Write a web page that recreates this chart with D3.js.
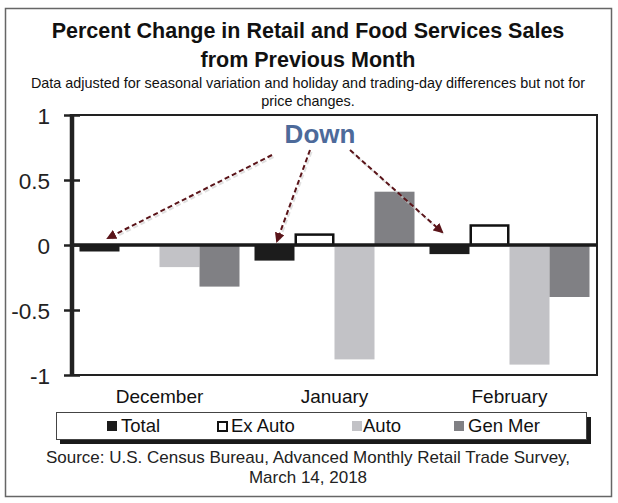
<!DOCTYPE html>
<html><head><meta charset="utf-8">
<script src="https://cdn.jsdelivr.net/npm/d3@7"></script>
<style>body{margin:0;background:#fff;}svg{display:block;font-family:"Liberation Sans",Arial,sans-serif;}</style>
</head><body>
<svg id="c" width="618" height="503"></svg>
<script>
const months = ["December","January","February"];
const seriesNames = ["Total","Ex Auto","Auto","Gen Mer"];
const total  = [-0.05, -0.12, -0.07];
const exAuto = [0.0, 0.08, 0.15];
const auto   = [-0.17, -0.88, -0.92];
const genMer = [-0.32, 0.41, -0.40];
const yTicks = [1, 0.5, 0, -0.5, -1];
const yTickLabels = ["1","0.5","0","-0.5","-1"];

const seriesValues = [total, exAuto, auto, genMer];
const fills = ["#1c1c1c","#ffffff","#c2c2c6","#808084"];
const strokes = ["none","#111","none","none"];

const svg = d3.select("#c");
// outer border
svg.append("rect").attr("x",5.5).attr("y",8.5).attr("width",606).attr("height",488)
  .attr("fill","#fff").attr("stroke","#666").attr("stroke-width",1.5);

// titles
svg.append("text").attr("x",308).attr("y",38).attr("text-anchor","middle")
  .attr("font-size",21.5).attr("font-weight","bold").attr("fill","#111")
  .text("Percent Change in Retail and Food Services Sales");
svg.append("text").attr("x",308).attr("y",67).attr("text-anchor","middle")
  .attr("font-size",21.5).attr("font-weight","bold").attr("fill","#111")
  .text("from Previous Month");
svg.append("text").attr("x",308).attr("y",88).attr("text-anchor","middle")
  .attr("font-size",14.4).attr("fill","#111")
  .text("Data adjusted for seasonal variation and holiday and trading-day differences but not for");
svg.append("text").attr("x",308).attr("y",106).attr("text-anchor","middle")
  .attr("font-size",14.4).attr("fill","#111").text("price changes.");

const pL = 72, pR = 597, pT = 115, pB = 375;
const y = d3.scaleLinear().domain([-1,1]).range([pB, pT]);
const p = 15/175;
const x0 = d3.scaleBand().domain(months).range([pL, pR]).paddingInner(p).paddingOuter(p/2);
const x1 = d3.scaleBand().domain(seriesNames).range([0, x0.bandwidth()]).padding(0);

// plot frame
svg.append("rect").attr("x",pL).attr("y",pT).attr("width",pR-pL).attr("height",pB-pT)
  .attr("fill","none").attr("stroke","#222").attr("stroke-width",2);

// bars
const data = [];
months.forEach((m,i)=>seriesNames.forEach((s,j)=>data.push({m, s, j, v: seriesValues[j][i]})));
svg.append("g").selectAll("rect").data(data.filter(d=>d.v!==0)).join("rect")
  .attr("x", d=>x0(d.m)+x1(d.s) + (d.j===1?1.25:0))
  .attr("width", d=>x1.bandwidth() - (d.j===1?2.5:0))
  .attr("y", d=>y(Math.max(0,d.v)))
  .attr("height", d=>Math.abs(y(d.v)-y(0)))
  .attr("fill", d=>fills[d.j])
  .attr("stroke", d=>strokes[d.j])
  .attr("stroke-width", 2.5);

// zero line
svg.append("line").attr("x1",pL).attr("x2",pR).attr("y1",y(0)).attr("y2",y(0))
  .attr("stroke","#1a1a1a").attr("stroke-width",3.5);

// y axis
const yAxis = d3.axisLeft(y).tickValues(yTicks).tickFormat((d,i)=>yTickLabels[i]).tickSize(0).tickPadding(22);
const ga = svg.append("g").attr("transform",`translate(${pL},0)`).call(yAxis);
ga.select(".domain").remove();
ga.selectAll("text").attr("font-size",22.5).attr("fill","#222").attr("font-family","Liberation Sans, Arial, sans-serif").attr("dy","0.36em");
ga.selectAll(".tick").append("line").attr("x1",-8).attr("x2",8).attr("stroke","#222").attr("stroke-width",2.5);
svg.append("line").attr("x1",pL).attr("x2",pL).attr("y1",pT-1).attr("y2",pB+1)
  .attr("stroke","#222").attr("stroke-width",4.5);

// x category labels
const xAxis = d3.axisBottom(x0).tickSize(0).tickPadding(15);
const gx = svg.append("g").attr("transform",`translate(0,${pB})`).call(xAxis);
gx.select(".domain").remove();
gx.selectAll("text").attr("font-size",19).attr("fill","#111").attr("font-family","Liberation Sans, Arial, sans-serif");

// annotation
svg.append("defs").append("marker").attr("id","ah").attr("viewBox","0 0 10 10")
  .attr("refX",8).attr("refY",5).attr("markerWidth",5).attr("markerHeight",5).attr("orient","auto")
  .append("path").attr("d","M0,0L10,5L0,10z").attr("fill","#5a1419");
svg.append("text").attr("x",320).attr("y",143).attr("text-anchor","middle")
  .attr("font-size",26).attr("font-weight","bold").attr("fill","#4d6a9a").text("Down");
const arrows = [[272,155,108,238],[310,150,277,241],[350,150,442,232]];
svg.append("g").selectAll("line").data(arrows).join("line")
  .attr("x1",d=>d[0]+1.5).attr("y1",d=>d[1]+2).attr("x2",d=>d[2]+1.5).attr("y2",d=>d[3]+2)
  .attr("stroke","#ccc").attr("stroke-width",2).attr("stroke-dasharray","5,3").attr("opacity",0.6);
svg.append("g").selectAll("line").data(arrows).join("line")
  .attr("x1",d=>d[0]).attr("y1",d=>d[1]).attr("x2",d=>d[2]).attr("y2",d=>d[3])
  .attr("stroke","#5a1419").attr("stroke-width",2).attr("stroke-dasharray","5,3")
  .attr("marker-end","url(#ah)");

// legend
svg.append("rect").attr("x",60).attr("y",417).attr("width",531).attr("height",27).attr("fill","#1a1a1a");
svg.append("rect").attr("x",56.5).attr("y",412.5).attr("width",530).attr("height",27)
  .attr("fill","#fff").attr("stroke","#444").attr("stroke-width",1);
const legX = [107, 217, 352, 454];
const lg = svg.append("g").selectAll("g").data(seriesNames).join("g")
  .attr("transform",(d,i)=>`translate(${legX[i]},0)`);
lg.append("rect").attr("x",(d,i)=>i===1?1:0).attr("y",(d,i)=>i===1?422:421)
  .attr("width",(d,i)=>i===1?9:10).attr("height",(d,i)=>i===1?9:10)
  .attr("fill",(d,i)=>fills[i]).attr("stroke",(d,i)=>strokes[i]).attr("stroke-width",2);
lg.append("text").attr("x",(d,i)=>i===2?11:14).attr("y",432).attr("font-size",18.5).attr("fill","#111").text(d=>d);

// source
svg.append("text").attr("x",308).attr("y",463).attr("text-anchor","middle").attr("font-size",17).attr("fill","#222")
  .text("Source: U.S. Census Bureau, Advanced Monthly Retail Trade Survey,");
svg.append("text").attr("x",308).attr("y",483).attr("text-anchor","middle").attr("font-size",17).attr("fill","#222")
  .text("March 14, 2018");
</script>
</body></html>
